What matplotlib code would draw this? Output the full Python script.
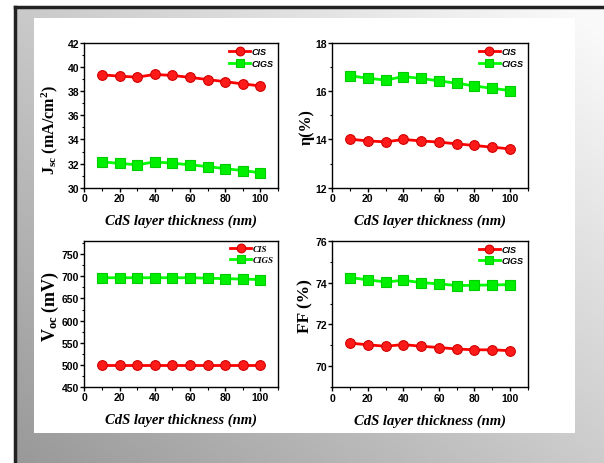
import numpy as np
import matplotlib
matplotlib.use("Agg")
import matplotlib.pyplot as plt
from matplotlib.ticker import MultipleLocator

plt.rcParams['mathtext.fontset'] = 'custom'
plt.rcParams['mathtext.rm'] = 'Liberation Serif:bold'
plt.rcParams['mathtext.it'] = 'Liberation Serif:bold'
plt.rcParams['mathtext.bf'] = 'Liberation Serif:bold'

thickness = [10, 20, 30, 40, 50, 60, 70, 80, 90, 100]
series_names = ["CIS", "CIGS"]

jsc_cis = [39.36, 39.25, 39.17, 39.39, 39.31, 39.15, 38.97, 38.79, 38.61, 38.44]
jsc_cigs = [32.14, 32.02, 31.90, 32.14, 32.03, 31.90, 31.75, 31.58, 31.42, 31.24]
eff_cis = [14.01, 13.94, 13.90, 14.00, 13.94, 13.89, 13.82, 13.75, 13.68, 13.61]
eff_cigs = [16.64, 16.54, 16.46, 16.61, 16.53, 16.43, 16.33, 16.22, 16.12, 16.03]
voc_cis = [500, 500, 500, 500, 500, 500, 500, 500, 500, 500]
voc_cigs = [697, 697, 697, 697, 697, 697, 696, 695, 694, 693]
ff_cis = [71.11, 71.03, 70.96, 71.04, 70.96, 70.90, 70.83, 70.79, 70.79, 70.75]
ff_cigs = [74.24, 74.13, 74.03, 74.11, 74.00, 73.94, 73.86, 73.87, 73.89, 73.90]

W, H = 604, 464
fig = plt.figure(figsize=(W / 100, H / 100), dpi=100)
fig.patch.set_facecolor('white')

def px_rect(x0, y0, x1, y1):
    return [x0 / W, 1 - y1 / H, (x1 - x0) / W, (y1 - y0) / H]

# gradient background frame
bg = fig.add_axes(px_rect(15, 8, 604, 464))
nx, ny = 200, 160
xx = np.linspace(0, 1, nx)
yy = np.linspace(1, 0, ny)
X, Y = np.meshgrid(xx, yy)
G = 0.60 + 0.20 * X + 0.19 * Y
G = np.clip(G, 0, 0.98)
bg.imshow(np.dstack([G, G, G]), aspect='auto', extent=[0, 1, 0, 1], interpolation='bilinear')
bg.set_xlim(0, 1)
bg.set_ylim(0, 1)
bg.axis('off')
bg.plot([0, 0], [0, 1], color='#222222', lw=2.5, transform=bg.transAxes, clip_on=False)
bg.plot([0, 1], [1, 1], color='#222222', lw=2.5, transform=bg.transAxes, clip_on=False)

# white panel
wp = fig.add_axes(px_rect(34, 19, 575, 434))
wp.set_facecolor('white')
wp.set_xticks([])
wp.set_yticks([])
for s in wp.spines.values():
    s.set_visible(False)

panels = [
    dict(rect=(84.3, 44, 278, 188.7), cis=jsc_cis, cigs=jsc_cigs, ylim=(30, 42), major=2, minor=1,
         ylabel=r'J$_{\mathbf{sc}}$ (mA/cm$^{\mathbf{2}}$)', ylx=50, yly=130, ylfs=11.5,
         legfam='Liberation Sans'),
    dict(rect=(332.3, 44, 527.7, 188.7), cis=eff_cis, cigs=eff_cigs, ylim=(12, 18), major=2, minor=1,
         ylabel='η(%)', ylx=307, yly=127, ylfs=11.5, legfam='Liberation Sans'),
    dict(rect=(84.3, 241.7, 278, 387.7), cis=voc_cis, cigs=voc_cigs, ylim=(450, 781), major=50, minor=25,
         ylabel=r'V$_{\mathbf{oc}}$ (mV)', ylx=50, yly=306, ylfs=13, legfam='Liberation Serif'),
    dict(rect=(332.3, 241.7, 527.7, 388.3), cis=ff_cis, cigs=ff_cigs, ylim=(69, 76), major=2, minor=1,
         ylabel='FF (%)', ylx=305, yly=306, ylfs=12.5, legfam='Liberation Sans'),
]

for p in panels:
    x0, y0, x1, y1 = p['rect']
    ax = fig.add_axes(px_rect(x0, y0, x1, y1))
    ax.set_facecolor('none')
    ax.plot(thickness, p['cis'], color='#ff0000', lw=2, marker='o', ms=7,
            mfc='#ff1a1a', mec='#d00000', mew=0.8, label=series_names[0])
    ax.plot(thickness, p['cigs'], color='#00ff00', lw=2, marker='s', ms=6.5,
            mfc='#00ee00', mec='#00cc00', mew=0.8, label=series_names[1])
    ax.set_xlim(0, 110)
    ax.set_ylim(*p['ylim'])
    ax.xaxis.set_major_locator(MultipleLocator(20))
    ax.xaxis.set_minor_locator(MultipleLocator(10))
    ax.yaxis.set_major_locator(MultipleLocator(p['major']))
    ax.yaxis.set_minor_locator(MultipleLocator(p['minor']))
    ax.tick_params(which='major', direction='out', length=3, width=1, pad=0.8,
                   labelsize=7.5, top=False, right=False)
    ax.tick_params(which='minor', direction='out', length=1.8, width=0.8, top=False, right=False)
    for lab in ax.get_xticklabels() + ax.get_yticklabels():
        lab.set_fontweight('bold')
        lab.set_fontfamily('Liberation Sans')
    for s in ax.spines.values():
        s.set_linewidth(1)
    ax.legend(loc='upper right', frameon=False,
              prop=dict(family=p['legfam'], weight='bold', style='italic', size=6.5),
              handlelength=2.3, handletextpad=0.2, labelspacing=0.3,
              borderpad=0.15, borderaxespad=0.3, markerscale=0.9)
    fig.text(p['ylx'] / W, 1 - p['yly'] / H, p['ylabel'], rotation=90,
             ha='center', va='center', fontsize=p['ylfs'], fontweight='bold',
             family='Liberation Serif')
    fig.text(((x0 + x1) / 2) / W, 1 - (y1 + 33) / H, 'CdS layer thickness (nm)',
             ha='center', va='center', fontsize=10.5, fontweight='bold', style='italic',
             family='Liberation Serif')

fig.savefig('out.png', dpi=100)
